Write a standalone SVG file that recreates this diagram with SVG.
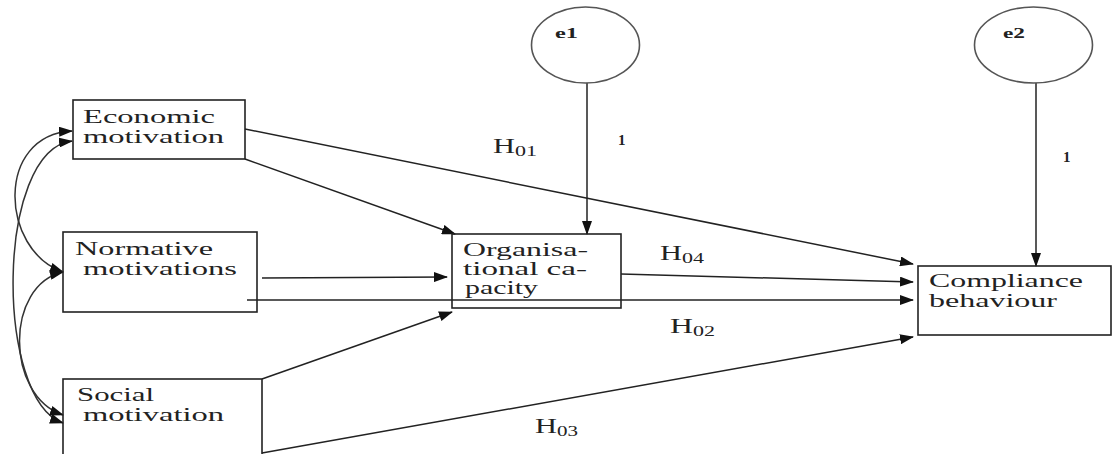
<svg xmlns="http://www.w3.org/2000/svg" width="1113" height="454" viewBox="0 0 1113 454">
<defs>
<marker id="arr" markerUnits="userSpaceOnUse" markerWidth="14" markerHeight="10" refX="13" refY="5" orient="auto-start-reverse" viewBox="0 0 14 10">
<path d="M0,0 L14,5 L0,10 Z" fill="#111"/>
</marker>
<style>
.box{fill:none;stroke:#222;stroke-width:1.6}
.ell{fill:#fff;stroke:#555;stroke-width:1.6}
.t{font-family:"Liberation Serif","Times New Roman",serif;font-size:19px;fill:#222}
.s{font-family:"Liberation Serif","Times New Roman",serif;font-size:15px;font-weight:bold;fill:#222}
.h{font-family:"Liberation Serif","Times New Roman",serif;font-size:20px;fill:#222}
.sub{font-family:"Liberation Serif","Times New Roman",serif;font-size:14px;fill:#222}
.c{fill:none;stroke:#222;stroke-width:1.5;marker-end:url(#arr)}
.cv{fill:none;stroke:#333;stroke-width:1.5;marker-start:url(#arr);marker-end:url(#arr)}
</style>
</defs>
<g id="connectors">
<path class="c" d="M245,129 L913,264"/>
<path class="c" d="M245,159 L455,234"/>
<path class="c" d="M262,278 L447,277"/>
<path class="c" d="M247,300 L913,300"/>
<path class="c" d="M262,379 L452,312"/>
<path class="c" d="M262,453 L913,337"/>
<path class="c" d="M621,274 L913,282"/>
<path class="c" d="M587,83 L587,234"/>
<path class="c" d="M1036,83 L1036,266"/>
<path class="cv" d="M72,131 C-5,135 0,250 63,272"/>
<path class="cv" d="M72,141 C-5,150 -5,400 63,423"/>
<path class="cv" d="M63,272 C5,285 5,395 63,415"/>
</g>
<g id="labels">
<text class="h" x="493" y="153" textLength="22" lengthAdjust="spacingAndGlyphs">H</text>
<text class="sub" x="515" y="156" textLength="22" lengthAdjust="spacingAndGlyphs">01</text>
<text class="h" x="660" y="260" textLength="22" lengthAdjust="spacingAndGlyphs">H</text>
<text class="sub" x="682" y="263" textLength="22" lengthAdjust="spacingAndGlyphs">04</text>
<text class="h" x="670" y="333" textLength="23" lengthAdjust="spacingAndGlyphs">H</text>
<text class="sub" x="693" y="336" textLength="22" lengthAdjust="spacingAndGlyphs">02</text>
<text class="h" x="535" y="433" textLength="22" lengthAdjust="spacingAndGlyphs">H</text>
<text class="sub" x="557" y="436" textLength="21" lengthAdjust="spacingAndGlyphs">03</text>
<text class="s" x="618" y="145">1</text>
<text class="s" x="1063" y="162">1</text>
</g>
<g id="e1">
<ellipse class="ell" cx="585.5" cy="45" rx="54" ry="38"/>
<text class="s" x="555" y="38" textLength="23" lengthAdjust="spacingAndGlyphs">e1</text>
</g>
<g id="e2">
<ellipse class="ell" cx="1033.5" cy="45" rx="59" ry="38"/>
<text class="s" x="1003" y="38" textLength="22" lengthAdjust="spacingAndGlyphs">e2</text>
</g>
<g id="economic">
<rect class="box" x="73" y="100" width="172" height="59"/>
<text class="t" x="83" y="123" textLength="132" lengthAdjust="spacingAndGlyphs">Economic</text>
<text class="t" x="83" y="143" textLength="141" lengthAdjust="spacingAndGlyphs">motivation</text>
</g>
<g id="normative">
<rect class="box" x="63" y="232" width="194" height="80"/>
<text class="t" x="75" y="255" textLength="138" lengthAdjust="spacingAndGlyphs">Normative</text>
<text class="t" x="83" y="275" textLength="154" lengthAdjust="spacingAndGlyphs">motivations</text>
</g>
<g id="social">
<rect class="box" x="63" y="379" width="199" height="100"/>
<text class="t" x="77" y="401" textLength="77" lengthAdjust="spacingAndGlyphs">Social</text>
<text class="t" x="83" y="421" textLength="141" lengthAdjust="spacingAndGlyphs">motivation</text>
</g>
<g id="organisational">
<rect class="box" x="452" y="234" width="169" height="74"/>
<text class="t" x="463" y="256" textLength="125" lengthAdjust="spacingAndGlyphs">Organisa-</text>
<text class="t" x="463" y="275" textLength="124" lengthAdjust="spacingAndGlyphs">tional ca-</text>
<text class="t" x="465" y="294" textLength="73" lengthAdjust="spacingAndGlyphs">pacity</text>
</g>
<g id="compliance">
<rect class="box" x="918" y="266" width="193" height="69"/>
<text class="t" x="929" y="287" textLength="154" lengthAdjust="spacingAndGlyphs">Compliance</text>
<text class="t" x="929" y="307" textLength="128" lengthAdjust="spacingAndGlyphs">behaviour</text>
</g>
</svg>
